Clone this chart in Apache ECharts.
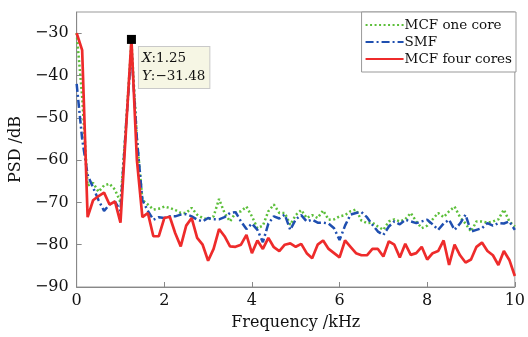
<!DOCTYPE html>
<html>
<head>
<meta charset="utf-8">
<script src="https://cdn.jsdelivr.net/npm/echarts@6/dist/echarts.min.js"></script>
<style>
  html, body { margin: 0; padding: 0; background: #fff; }
  #chart { width: 528px; height: 337px; }
</style>
</head>
<body>
<div id="chart"></div>
<script>
// frequency grid, kHz (0 .. 10, step 0.125)
const step = 0.125
const yTicks = [-90, -80, -70, -60, -50, -40, -30]

const mcfOneCore = [
  -30, -45, -66, -65.4, -67.5, -66, -65.6, -67, -70, -52, -32, -55, -69.4, -70.5, -71.7, -71.5,
  -71, -71.3, -71.8, -72.5, -72.5, -71.3, -72.9, -73.7, -74, -73.3, -69.2, -72.5, -74.5, -72.5, -72.1, -71,
  -73.3, -76.1, -75.5, -72.1, -70.5, -72.5, -72.5, -75.3, -73, -71.8, -73.7, -73, -73.7, -71.9, -74.1, -74,
  -73.3, -73, -72.1, -71.7, -74.3, -74.9, -74.8, -75.7, -76.5, -74.5, -74, -74.5, -74, -72.5, -74.5, -76.1,
  -75.5, -74, -72.5, -73.5, -72.1, -71, -73.5, -75, -76.9, -74.5, -74.5, -74.8, -74.5, -74, -71.7, -74.5,
  -75.7
]
const smf = [
  -42, -55, -63.5, -66.5, -69.5, -72, -70.5, -69.8, -72, -52, -34, -55, -69.5, -72, -74.1, -73.5,
  -73.7, -73.3, -73.3, -72.9, -72.8, -73.3, -74.1, -74.5, -73.7, -74, -74, -73.5, -72.5, -72.3, -74.5, -76.3,
  -75, -76.5, -79.4, -75, -73.3, -73.8, -72.9, -76.5, -74, -73, -74.5, -74.1, -74.8, -74.8, -75, -76.1,
  -78.9, -75.5, -72.9, -72.5, -72.3, -73.5, -75.3, -76.9, -77.7, -75.7, -74.5, -75.2, -74.1, -74.5, -74.9, -74.5,
  -74.1, -75.2, -76.5, -75, -74.1, -76.5, -75, -72.9, -76.9, -76.5, -76.1, -74.9, -75.5, -74.9, -75, -74.5,
  -76.5
]
const mcfFourCores = [
  -30, -34, -73.5, -69.5, -68.5, -67.7, -70.5, -69.8, -74.8, -53, -31.48, -60, -73.5, -72.5, -78, -78,
  -73.7, -73.4, -77.3, -80.4, -75.5, -73.7, -78.4, -80, -83.8, -81, -76.3, -78, -80.4, -80.5, -80, -77.7,
  -82, -79, -81, -78.4, -80.6, -81.5, -80, -79.7, -80.5, -79.8, -82, -83.2, -80, -79, -81, -82,
  -83, -79, -80.5, -82, -82.5, -82.5, -81, -81, -82.8, -79.2, -80, -83, -79.8, -82.4, -82, -80.5,
  -83.5, -82, -81.5, -79, -84.8, -80, -82.5, -84.2, -83.5, -80.5, -79.5, -81.5, -82.5, -84.8, -81.5, -83.6,
  -87.4
]
const peak = [1.25, -31.48]

const serif = '"DejaVu Serif", serif'
const minus = v => String(v).replace('-', '\u2212')
const pairs = arr => arr.map((v, i) => [i * step, v])

const chart = echarts.init(document.getElementById('chart'))

chart.setOption({
  animation: false,
  backgroundColor: '#fff',
  textStyle: { fontFamily: serif },
  grid: {
    left: 74,
    right: 12,
    top: 12,
    bottom: 50,
    show: true,
    borderColor: '#999',
    borderWidth: 1
  },
  legend: {
    orient: 'vertical',
    right: 12,
    top: 12,
    padding: [6, 4, 6, 3],
    itemWidth: 38,
    itemHeight: 14,
    itemGap: 3,
    borderColor: '#999',
    borderWidth: 1,
    backgroundColor: '#fff',
    itemStyle: { opacity: 0 },
    textStyle: { fontFamily: serif, fontSize: 13.5, color: '#111', padding: [0, 0, 0, -4] },
    data: ['MCF one core', 'SMF', 'MCF four cores']
  },
  xAxis: {
    type: 'value',
    min: 0,
    max: 10,
    interval: 2,
    name: 'Frequency /kHz',
    nameLocation: 'middle',
    nameGap: 28,
    nameTextStyle: { fontFamily: serif, fontSize: 16, color: '#111' },
    axisLine: { lineStyle: { color: '#888' } },
    axisTick: { inside: true, length: 5, lineStyle: { color: '#888' } },
    axisLabel: { fontFamily: serif, fontSize: 16, color: '#111', margin: 6 },
    splitLine: { show: false }
  },
  yAxis: {
    type: 'value',
    min: -90,
    max: -25,
    interval: 10,
    name: 'PSD /dB',
    nameLocation: 'middle',
    nameGap: 46,
    nameTextStyle: { fontFamily: serif, fontSize: 16, color: '#111' },
    axisLine: { show: true, lineStyle: { color: '#888' } },
    axisTick: { show: true, inside: true, length: 5, customValues: yTicks, lineStyle: { color: '#888' } },
    axisLabel: { fontFamily: serif, fontSize: 16, color: '#111', margin: 8, customValues: yTicks, formatter: minus },
    splitLine: { show: false }
  },
  series: [
    {
      name: 'MCF one core',
      type: 'line',
      symbol: 'none',
      color: '#5cbf3a',
      lineStyle: { width: 2.5, type: [2, 2.5], color: '#5cbf3a' },
      data: pairs(mcfOneCore)
    },
    {
      name: 'SMF',
      type: 'line',
      symbol: 'none',
      color: '#1f4fb0',
      lineStyle: { width: 2.5, type: [8, 3, 2, 3], color: '#1f4fb0' },
      data: pairs(smf)
    },
    {
      name: 'MCF four cores',
      type: 'line',
      symbol: 'none',
      color: '#ee2b2b',
      lineStyle: { width: 2.7, color: '#ee2b2b' },
      data: pairs(mcfFourCores),
      markPoint: {
        symbol: 'rect',
        symbolSize: 9,
        itemStyle: { color: '#000', opacity: 1 },
        data: [{
          coord: peak,
          label: {
            show: true,
            position: [12, 12],
            align: 'left',
            verticalAlign: 'top',
            backgroundColor: '#f6f6e4',
            borderColor: '#c9c9c9',
            borderWidth: 1,
            padding: [3, 4, 2, 3],
            lineHeight: 18,
            fontFamily: serif,
            fontSize: 13.5,
            color: '#111',
            formatter: () => '{i|X}:' + peak[0] + '\n{i|Y}:' + minus(peak[1]),
            rich: {
              i: { fontStyle: 'italic', fontFamily: serif, fontSize: 13.5, color: '#111', lineHeight: 18 }
            }
          }
        }]
      }
    }
  ]
})
</script>
</body>
</html>
